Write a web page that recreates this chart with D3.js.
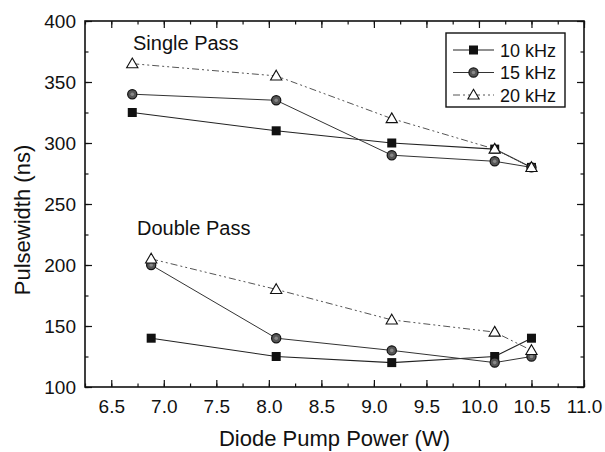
<!DOCTYPE html>
<html><head><meta charset="utf-8">
<script src="https://cdn.jsdelivr.net/npm/d3@7"></script>
<style>body{margin:0;background:#fff}svg{display:block}text{font-family:Arial,"Liberation Sans",sans-serif;fill:#111}</style>
</head><body>
<svg id="c" width="605" height="452"></svg>
<script>
const seriesNames = ["10 kHz", "15 kHz", "20 kHz"];
const xSingle = [6.7, 8.07, 9.17, 10.15, 10.5];
const xDouble = [6.88, 8.07, 9.17, 10.15, 10.5];
const single10 = [325, 310, 300, 295, 280];
const single15 = [340, 335, 290, 285, 280];
const single20 = [365, 355, 320, 295, 280];
const double10 = [140, 125, 120, 125, 140];
const double15 = [200, 140, 130, 120, 125];
const double20 = [205, 180, 155, 145, 130];
const xTicks = [6.5, 7.0, 7.5, 8.0, 8.5, 9.0, 9.5, 10.0, 10.5, 11.0];
const yTicks = [100, 150, 200, 250, 300, 350, 400];

const svg = d3.select("#c");
const L = 85, R = 584, T = 21, B = 387;
const x = d3.scaleLinear().domain([6.25, 11.0]).range([L, R]);
const y = d3.scaleLinear().domain([100, 400]).range([B, T]);

const styles = [
  {stroke: "#222", dash: null, width: 1.1},
  {stroke: "#333", dash: null, width: 1},
  {stroke: "#555", dash: "7,3,2,3,2,3", width: 1}
];

// axes with inward ticks on all sides
const xMinor = d3.range(6.25, 11.01, 0.25);
const yMinor = d3.range(100, 401, 25);
function axisGroup(axis, tr) { return svg.append("g").attr("transform", tr).call(axis); }
const gB = axisGroup(d3.axisBottom(x).tickValues(xTicks).tickFormat(d3.format(".1f")).tickSizeInner(-7).tickSizeOuter(0).tickPadding(13), `translate(0,${B})`);
axisGroup(d3.axisBottom(x).tickValues(xMinor).tickFormat("").tickSizeInner(-3.5).tickSizeOuter(0), `translate(0,${B})`);
axisGroup(d3.axisTop(x).tickValues(xTicks).tickFormat("").tickSizeInner(-7).tickSizeOuter(0), `translate(0,${T})`);
axisGroup(d3.axisTop(x).tickValues(xMinor).tickFormat("").tickSizeInner(-3.5).tickSizeOuter(0), `translate(0,${T})`);
const gL = axisGroup(d3.axisLeft(y).tickValues(yTicks).tickSizeInner(-7).tickSizeOuter(0).tickPadding(9), `translate(${L},0)`);
axisGroup(d3.axisLeft(y).tickValues(yMinor).tickFormat("").tickSizeInner(-3.5).tickSizeOuter(0), `translate(${L},0)`);
axisGroup(d3.axisRight(y).tickValues(yTicks).tickFormat("").tickSizeInner(-7).tickSizeOuter(0), `translate(${R},0)`);
axisGroup(d3.axisRight(y).tickValues(yMinor).tickFormat("").tickSizeInner(-3.5).tickSizeOuter(0), `translate(${R},0)`);
svg.selectAll(".domain").remove();
svg.selectAll(".tick line").attr("stroke", "#111").attr("stroke-width", 1.2);
gB.selectAll("text").attr("font-size", 19).attr("fill", "#111");
gL.selectAll("text").attr("font-size", 19).attr("fill", "#111");
svg.append("rect").attr("x", L).attr("y", T).attr("width", R - L).attr("height", B - T)
  .attr("fill", "none").attr("stroke", "#111").attr("stroke-width", 1.6);

// data
const groups = [
  {xs: xSingle, ys: [single10, single15, single20]},
  {xs: xDouble, ys: [double10, double15, double20]}
];
const line = d3.line().x(d => x(d[0])).y(d => y(d[1]));
groups.forEach(g => {
  g.ys.forEach((vals, i) => {
    const pts = g.xs.map((xv, j) => [xv, vals[j]]);
    svg.append("path").attr("d", line(pts)).attr("fill", "none")
      .attr("stroke", styles[i].stroke).attr("stroke-width", styles[i].width)
      .attr("stroke-dasharray", styles[i].dash);
  });
});
function marker(sel, i, cx, cy) {
  if (i === 0) sel.append("rect").attr("x", cx - 4.5).attr("y", cy - 4.5).attr("width", 9).attr("height", 9).attr("fill", "#111");
  else if (i === 1) {
    sel.append("circle").attr("cx", cx).attr("cy", cy).attr("r", 4.6).attr("fill", "#555").attr("stroke", "#111").attr("stroke-width", 1.2);
    sel.append("circle").attr("cx", cx).attr("cy", cy).attr("r", 1.8).attr("fill", "#888");
  } else {
    const s = d3.symbol().type(d3.symbolTriangle).size(55);
    sel.append("path").attr("d", s()).attr("transform", `translate(${cx},${cy + 0.8})`).attr("fill", "#fff").attr("stroke", "#111").attr("stroke-width", 1.1);
  }
}
groups.forEach(g => {
  g.ys.forEach((vals, i) => {
    g.xs.forEach((xv, j) => marker(svg, i, x(xv), y(vals[j])));
  });
});

// annotations
svg.append("text").attr("x", 133).attr("y", 50).attr("font-size", 20).text("Single Pass");
svg.append("text").attr("x", 137).attr("y", 235).attr("font-size", 20).text("Double Pass");

// axis titles
svg.append("text").attr("x", (L + R) / 2).attr("y", 446).attr("text-anchor", "middle").attr("font-size", 22).text("Diode Pump Power (W)");
svg.append("text").attr("transform", "translate(30,220) rotate(-90)").attr("text-anchor", "middle").attr("font-size", 22).text("Pulsewidth (ns)");

// legend
const lg = svg.append("g");
lg.append("rect").attr("x", 446).attr("y", 33).attr("width", 119).attr("height", 74).attr("fill", "#fff").attr("stroke", "#111").attr("stroke-width", 1.4);
seriesNames.forEach((name, i) => {
  const yy = 50 + i * 22.5;
  lg.append("line").attr("x1", 453).attr("x2", 494).attr("y1", yy).attr("y2", yy)
    .attr("stroke", styles[i].stroke).attr("stroke-width", styles[i].width).attr("stroke-dasharray", styles[i].dash);
  marker(lg, i, 473.5, yy);
  lg.append("text").attr("x", 500).attr("y", yy + 6.5).attr("font-size", 18).text(name);
});
</script>
</body></html>
